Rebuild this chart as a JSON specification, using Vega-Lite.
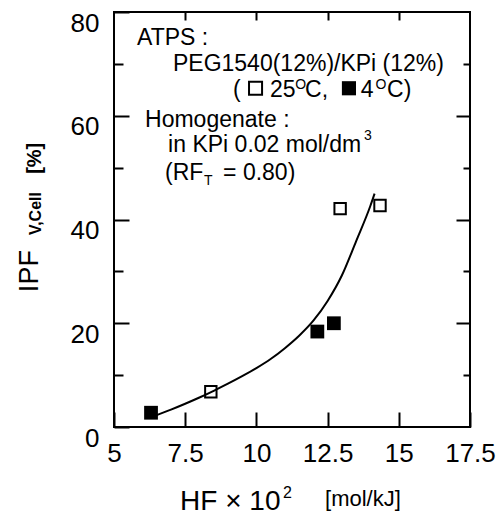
{
  "$schema": "https://vega.github.io/schema/vega-lite/v6.json",
  "width": 356,
  "height": 415,
  "autosize": "none",
  "padding": {"left": 114, "right": 33, "top": 12, "bottom": 88},
  "background": "white",
  "config": {
    "view": {"stroke": "black", "strokeWidth": 2},
    "font": "Liberation Sans",
    "axis": {"grid": false, "domain": false, "tickColor": "black", "tickWidth": 2, "labelColor": "black", "labelFont": "Liberation Sans"}
  },
  "datasets": {
    "curve": [
      {"hf": 6.5, "ipf": 2.3}, {"hf": 7.0, "ipf": 3.35}, {"hf": 7.5, "ipf": 4.48},
      {"hf": 8.0, "ipf": 5.68}, {"hf": 8.5, "ipf": 6.98}, {"hf": 9.0, "ipf": 8.35},
      {"hf": 9.5, "ipf": 9.8}, {"hf": 10.0, "ipf": 11.35}, {"hf": 10.5, "ipf": 13.1},
      {"hf": 11.0, "ipf": 15.2}, {"hf": 11.5, "ipf": 17.6}, {"hf": 12.0, "ipf": 20.5},
      {"hf": 12.5, "ipf": 24.3}, {"hf": 13.0, "ipf": 29.2}, {"hf": 13.5, "ipf": 35.8},
      {"hf": 14.0, "ipf": 42.6}, {"hf": 14.15, "ipf": 45.0}
    ],
    "points": [
      {"hf": 6.3, "ipf": 2.75, "temp": "4"},
      {"hf": 8.4, "ipf": 6.8, "temp": "25"},
      {"hf": 12.14, "ipf": 18.4, "temp": "4"},
      {"hf": 12.72, "ipf": 20.0, "temp": "4"},
      {"hf": 12.94, "ipf": 42.1, "temp": "25"},
      {"hf": 14.34, "ipf": 42.7, "temp": "25"}
    ],
    "legendsym": [
      {"hf": 9.97, "ipf": 65.3, "temp": "25"},
      {"hf": 13.25, "ipf": 65.3, "temp": "4"}
    ],
    "notes": [
      {"hf": 5.81, "ipf": 73.64, "text": "ATPS :"},
      {"hf": 7.07, "ipf": 68.63, "text": "PEG1540(12%)/KPi (12%)"},
      {"hf": 9.18, "ipf": 63.61, "text": "("},
      {"hf": 10.48, "ipf": 63.61, "text": "25"},
      {"hf": 11.71, "ipf": 63.61, "text": "C,"},
      {"hf": 13.66, "ipf": 63.61, "text": "4"},
      {"hf": 14.59, "ipf": 63.61, "text": "C)"},
      {"hf": 6.09, "ipf": 57.83, "text": "Homogenate :"},
      {"hf": 6.9, "ipf": 53.0, "text": "in KPi 0.02 mol/dm"},
      {"hf": 6.79, "ipf": 47.6, "text": "(RF"},
      {"hf": 8.83, "ipf": 47.6, "text": "= 0.80)"}
    ],
    "smallnotes": [
      {"hf": 11.36, "ipf": 65.2, "text": "O"},
      {"hf": 14.18, "ipf": 65.2, "text": "O"},
      {"hf": 13.78, "ipf": 55.4, "text": "3"},
      {"hf": 8.16, "ipf": 46.65, "text": "T"}
    ],
    "ytitle": [
      {"hf": 2.33, "ipf": 26.0, "text": "IPF"}
    ],
    "ytitlesub": [
      {"hf": 2.45, "ipf": 37.0, "text": "V,Cell"}
    ],
    "ytitleunit": [
      {"hf": 2.45, "ipf": 48.8, "text": "[%]"}
    ],
    "xtitle": [
      {"hf": 7.32, "ipf": -16.0, "text": "HF × 10"}
    ],
    "xtitlesup": [
      {"hf": 10.93, "ipf": -13.69, "text": "2"}
    ],
    "xtitleunit": [
      {"hf": 12.41, "ipf": -15.2, "text": "[mol/kJ]"}
    ]
  },
  "resolve": {"axis": {"x": "independent", "y": "independent"}},
  "layer": [
    {
      "data": {"name": "curve"},
      "mark": {"type": "line", "interpolate": "monotone", "color": "black", "strokeWidth": 2},
      "encoding": {
        "x": {"field": "hf", "type": "quantitative", "scale": {"domain": [5, 17.5], "nice": false, "zero": false},
          "axis": {"orient": "bottom", "values": [5, 7.5, 10, 12.5, 15, 17.5], "labelExpr": "'' + datum.value", "tickSize": -15, "labelPadding": 28, "labelFontSize": 26, "title": null, "labelFlush": false, "labelOverlap": false}},
        "y": {"field": "ipf", "type": "quantitative", "scale": {"domain": [0, 80], "nice": false, "zero": false},
          "axis": {"orient": "left", "values": [0, 20, 40, 60, 80], "labelExpr": "'' + datum.value", "tickSize": -15, "labelPadding": 30, "labelFontSize": 26, "labelOffset": 11, "title": null, "labelFlush": false, "labelOverlap": false}}
      }
    },
    {
      "data": {"name": "points"},
      "transform": [{"filter": "datum.temp == '25'"}],
      "mark": {"type": "point", "shape": "square", "filled": false, "color": "black", "strokeWidth": 2, "size": 130, "opacity": 1},
      "encoding": {
        "x": {"field": "hf", "type": "quantitative", "axis": {"orient": "top", "values": [7.5, 10, 12.5, 15], "tickSize": -8, "labels": false, "title": null}},
        "y": {"field": "ipf", "type": "quantitative", "axis": {"orient": "right", "values": [20, 40, 60], "tickSize": -14, "labels": false, "title": null}}
      }
    },
    {
      "data": {"name": "points"},
      "transform": [{"filter": "datum.temp == '4'"}],
      "mark": {"type": "point", "shape": "square", "filled": true, "color": "black", "size": 190, "opacity": 1},
      "encoding": {
        "x": {"field": "hf", "type": "quantitative", "axis": null},
        "y": {"field": "ipf", "type": "quantitative", "axis": {"orient": "left", "values": [10, 30, 50, 70], "tickSize": -9, "labels": false, "title": null}}
      }
    },
    {
      "data": {"name": "legendsym"},
      "transform": [{"filter": "datum.temp == '25'"}],
      "mark": {"type": "point", "shape": "square", "filled": false, "color": "black", "strokeWidth": 2, "size": 170, "opacity": 1},
      "encoding": {
        "x": {"field": "hf", "type": "quantitative", "axis": null},
        "y": {"field": "ipf", "type": "quantitative", "axis": null}
      }
    },
    {
      "data": {"name": "legendsym"},
      "transform": [{"filter": "datum.temp == '4'"}],
      "mark": {"type": "point", "shape": "square", "filled": true, "color": "black", "size": 200, "opacity": 1},
      "encoding": {
        "x": {"field": "hf", "type": "quantitative", "axis": null},
        "y": {"field": "ipf", "type": "quantitative", "axis": null}
      }
    },
    {
      "data": {"name": "notes"},
      "mark": {"type": "text", "align": "left", "baseline": "alphabetic", "fontSize": 23, "color": "black"},
      "encoding": {
        "x": {"field": "hf", "type": "quantitative", "axis": null},
        "y": {"field": "ipf", "type": "quantitative", "axis": {"orient": "right", "values": [10, 30, 50, 70], "tickSize": -7, "labels": false, "title": null}},
        "text": {"field": "text"}
      }
    },
    {
      "data": {"name": "smallnotes"},
      "mark": {"type": "text", "align": "left", "baseline": "alphabetic", "fontSize": 14, "color": "black"},
      "encoding": {
        "x": {"field": "hf", "type": "quantitative", "axis": null},
        "y": {"field": "ipf", "type": "quantitative", "axis": null},
        "text": {"field": "text"}
      }
    },
    {
      "data": {"name": "ytitle"},
      "mark": {"type": "text", "align": "left", "baseline": "alphabetic", "fontSize": 27, "angle": 270, "color": "black"},
      "encoding": {
        "x": {"field": "hf", "type": "quantitative", "axis": null},
        "y": {"field": "ipf", "type": "quantitative", "axis": null},
        "text": {"field": "text"}
      }
    },
    {
      "data": {"name": "ytitlesub"},
      "mark": {"type": "text", "align": "left", "baseline": "alphabetic", "fontSize": 16, "fontWeight": "bold", "angle": 270, "color": "black"},
      "encoding": {
        "x": {"field": "hf", "type": "quantitative", "axis": null},
        "y": {"field": "ipf", "type": "quantitative", "axis": null},
        "text": {"field": "text"}
      }
    },
    {
      "data": {"name": "ytitleunit"},
      "mark": {"type": "text", "align": "left", "baseline": "alphabetic", "fontSize": 20, "fontWeight": "bold", "angle": 270, "color": "black"},
      "encoding": {
        "x": {"field": "hf", "type": "quantitative", "axis": null},
        "y": {"field": "ipf", "type": "quantitative", "axis": null},
        "text": {"field": "text"}
      }
    },
    {
      "data": {"name": "xtitle"},
      "mark": {"type": "text", "align": "left", "baseline": "alphabetic", "fontSize": 28, "color": "black"},
      "encoding": {
        "x": {"field": "hf", "type": "quantitative", "axis": null},
        "y": {"field": "ipf", "type": "quantitative", "axis": null},
        "text": {"field": "text"}
      }
    },
    {
      "data": {"name": "xtitlesup"},
      "mark": {"type": "text", "align": "left", "baseline": "alphabetic", "fontSize": 16, "color": "black"},
      "encoding": {
        "x": {"field": "hf", "type": "quantitative", "axis": null},
        "y": {"field": "ipf", "type": "quantitative", "axis": null},
        "text": {"field": "text"}
      }
    },
    {
      "data": {"name": "xtitleunit"},
      "mark": {"type": "text", "align": "left", "baseline": "alphabetic", "fontSize": 22, "color": "black"},
      "encoding": {
        "x": {"field": "hf", "type": "quantitative", "axis": null},
        "y": {"field": "ipf", "type": "quantitative", "axis": null},
        "text": {"field": "text"}
      }
    }
  ]
}
